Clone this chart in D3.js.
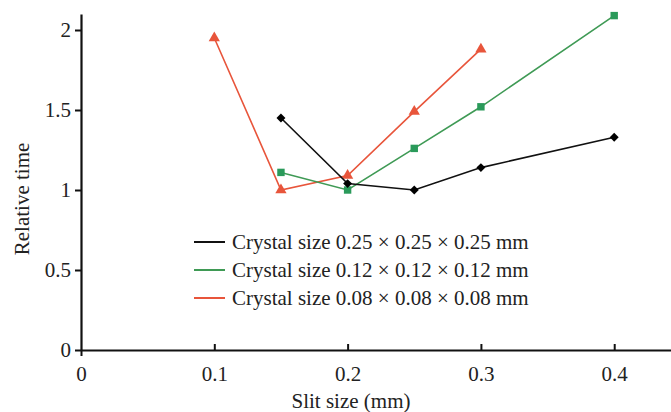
<!DOCTYPE html>
<html><head><meta charset="utf-8">
<script src="https://cdn.jsdelivr.net/npm/d3@7"></script>
<style>body{margin:0;background:#fff}svg{display:block}text{font-family:"Liberation Serif","Times New Roman",serif;fill:#222}</style>
</head><body><svg id="c" width="671" height="412"></svg>
<script>
const seriesNames = ["Crystal size 0.25 × 0.25 × 0.25 mm","Crystal size 0.12 × 0.12 × 0.12 mm","Crystal size 0.08 × 0.08 × 0.08 mm"];
const blackX = [0.15,0.2,0.25,0.3,0.4];
const blackY = [1.45,1.04,1.0,1.14,1.33];
const greenX = [0.15,0.2,0.25,0.3,0.4];
const greenY = [1.11,1.0,1.26,1.52,2.09];
const redX = [0.1,0.15,0.2,0.25,0.3];
const redY = [1.95,1.0,1.09,1.49,1.88];
const xTicks = [0,0.1,0.2,0.3,0.4];
const yTicks = [0,0.5,1,1.5,2];
const xTickLabels = ["0","0.1","0.2","0.3","0.4"];
const yTickLabels = ["0","0.5","1","1.5","2"];

const colors = ["#111111","#3f9a55","#e8553b"];
const markerColors = ["#000000","#2a9a5a","#e8553b"];
const symbols = [d3.symbolSquare, d3.symbolSquare, d3.symbolTriangle];
const symRot = [45, 0, 0];
const symSizes = [40, 55, 55];
const FS = 21;

const svg = d3.select("#c");
const x = d3.scaleLinear().domain([0,0.4426]).range([81,671]);
const y = d3.scaleLinear().domain([0,2.1]).range([350,14]);

// axes
const xAxis = svg.append("g").attr("transform","translate(0,350)")
  .call(d3.axisBottom(x).tickValues(xTicks).tickFormat((d,i)=>xTickLabels[i]).tickSize(6).tickSizeOuter(0).tickPadding(10));
const yAxis = svg.append("g").attr("transform","translate(81,0)")
  .call(d3.axisLeft(y).tickValues(yTicks).tickFormat((d,i)=>yTickLabels[i]).tickSize(6).tickSizeOuter(0).tickPadding(4));
[xAxis,yAxis].forEach(g=>{
  g.select(".domain").attr("stroke","#111").attr("stroke-width",2.2);
  g.selectAll(".tick line").attr("stroke","#111").attr("stroke-width",2);
  g.selectAll(".tick text").attr("font-size",FS).attr("fill","#222");
});
xAxis.selectAll(".tick").filter(d=>d!==0).select("line").attr("y2",-6);
yAxis.selectAll(".tick").filter(d=>d===0).select("line").attr("x2",-6);

// axis titles
svg.append("text").attr("x",351).attr("y",408).attr("text-anchor","middle").attr("font-size",FS).text("Slit size (mm)");
svg.append("text").attr("transform","translate(29,199) rotate(-90)").attr("text-anchor","middle").attr("font-size",FS).text("Relative time");

// series
const data = [
  blackX.map((d,i)=>[d,blackY[i]]),
  greenX.map((d,i)=>[d,greenY[i]]),
  redX.map((d,i)=>[d,redY[i]])
];
const line = d3.line().x(d=>x(d[0])).y(d=>y(d[1]));
[2,1,0].forEach(k=>{
  svg.append("path").datum(data[k]).attr("fill","none").attr("stroke",colors[k]).attr("stroke-width",1.6).attr("d",line);
  svg.append("g").selectAll("path").data(data[k]).join("path")
    .attr("transform",d=>`translate(${x(d[0])},${y(d[1])}) rotate(${symRot[k]})`)
    .attr("d",d3.symbol().type(symbols[k]).size(symSizes[k]))
    .attr("fill",markerColors[k]);
});

// legend
const lg = svg.append("g");
seriesNames.forEach((n,i)=>{
  const yy = 242 + i*28;
  lg.append("line").attr("x1",194).attr("x2",225).attr("y1",yy).attr("y2",yy).attr("stroke",colors[i]).attr("stroke-width",2);
  lg.append("text").attr("x",232).attr("y",yy+7).attr("font-size",FS).text(n);
});
</script></body></html>
